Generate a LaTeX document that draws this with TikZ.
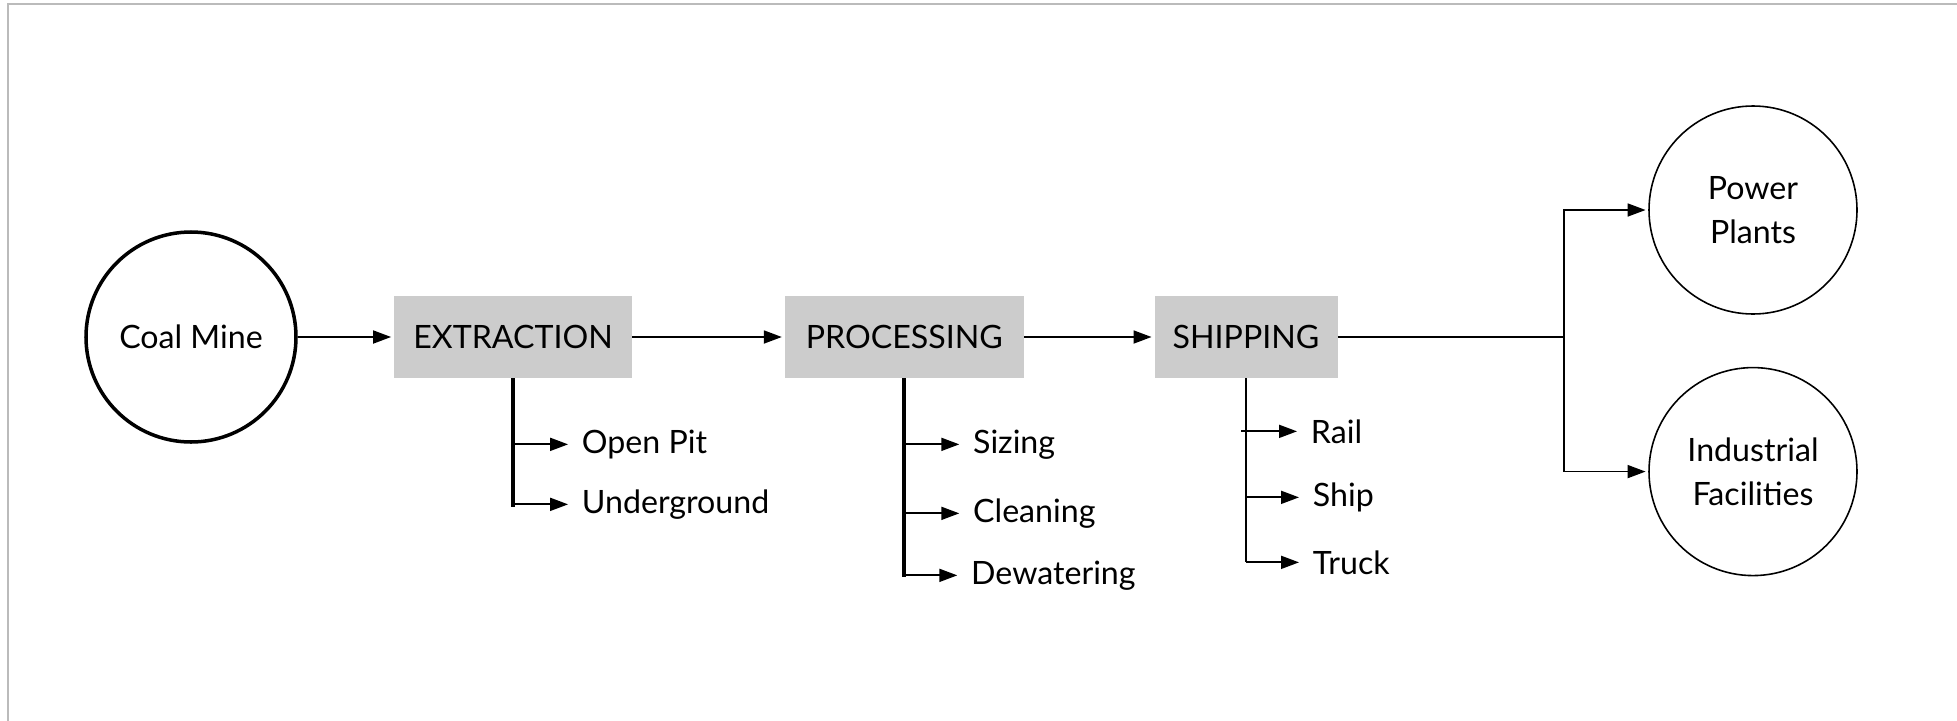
\documentclass[tikz,border=0pt]{standalone}
\usepackage{fontspec}
\setmainfont{Lato}
\usetikzlibrary{positioning, calc, arrows.meta}
\definecolor{boxgray}{HTML}{CCCCCC}
\definecolor{framegray}{HTML}{BBBBBB}

\begin{document}
\begin{tikzpicture}[
			font=\fontsize{18.3}{25}\selectfont,
			hub/.style={draw, circle, minimum size=4.16cm, line width=0.9pt, align=center},
			stage/.style={rectangle, fill=boxgray, minimum height=1.64cm},
			item/.style={inner sep=2pt},
			arr/.style={-{Triangle[length=0.36cm, width=0.26cm]}, line width=1pt},
			sub/.style={arr, shorten >=0.2cm},
			trunk/.style={line width=2.2pt},
		]
			\useasboundingbox (0,0) rectangle (39.14,-14.4);
			\draw[framegray, line width=0.6pt] (0.16,-0.08) rectangle (40,-15);

			\node[hub, line width=2pt, minimum size=4.2cm] (coal) at (3.82,-6.74) {Coal Mine};
			\node[stage, minimum width=4.76cm, right=1.92cm of coal] (extr) {EXTRACTION};
			\node[stage, minimum width=4.78cm, right=3.04cm of extr] (proc) {PROCESSING};
			\node[stage, minimum width=3.66cm, right=2.6cm of proc] (ship) {SHIPPING};
			\node[hub] (power) at (35.06,-4.2) {Power\\Plants};
			\node[hub, below=1.04cm of power] (indus) {Industrial\\Facilities};

			\draw[arr, shorten >=1.5pt] (coal.east) -- (extr.west);
			\draw[arr, shorten >=1.5pt] (extr.east) -- (proc.west);
			\draw[arr, shorten >=1.5pt] (proc.east) -- (ship.west);

			% split to the consumers
			\coordinate (fork) at ($(ship.east)+(4.52,0)$);
			\draw[line width=1pt] (ship.east) -- (fork);
			\draw[arr, shorten >=1.5pt] (fork) |- (power.west);
			\draw[arr, shorten >=1.5pt] (fork) |- (indus.west);

			% extraction methods
			\coordinate (e1) at ($(extr.south)+(0,-1.32)$);
			\coordinate (e2) at ($(extr.south)+(0,-2.52)$);
			\node[item, right=1.3cm of e1] (open) {Open Pit};
			\node[item, right=1.3cm of e2] (under) {Underground};
			\draw[trunk] (extr.south) -- ($(e2)+(0,-0.06)$);
			\draw[sub] (e1) -- (open.west);
			\draw[sub] (e2) -- (under.west);

			% processing steps
			\coordinate (p1) at ($(proc.south)+(0,-1.32)$);
			\coordinate (p2) at ($(proc.south)+(0,-2.7)$);
			\coordinate (p3) at ($(proc.south)+(0,-3.94)$);
			\node[item, right=1.3cm of p1] (sizing) {Sizing};
			\node[item, right=1.3cm of p2] (clean) {Cleaning};
			\node[item, right=1.26cm of p3] (dewat) {Dewatering};
			\draw[trunk] (proc.south) -- ($(p3)+(0,-0.03)$);
			\draw[sub] (p1) -- (sizing.west);
			\draw[sub] (p2) -- (clean.west);
			\draw[sub] (p3) -- (dewat.west);

			% transport modes
			\coordinate (s1) at ($(ship.south)+(0,-1.06)$);
			\coordinate (s2) at ($(ship.south)+(0,-2.38)$);
			\coordinate (s3) at ($(ship.south)+(0,-3.68)$);
			\node[item, right=1.22cm of s1] (rail) {Rail};
			\node[item, right=1.26cm of s2] (shipm) {Ship};
			\node[item, right=1.26cm of s3] (truck) {Truck};
			\draw[line width=1pt] (ship.south) -- (s3);
			\draw[sub] ([xshift=-0.1cm]s1) -- (rail.west);
			\draw[sub] (s2) -- (shipm.west);
			\draw[sub] (s3) -- (truck.west);
		\end{tikzpicture}
\end{document}
